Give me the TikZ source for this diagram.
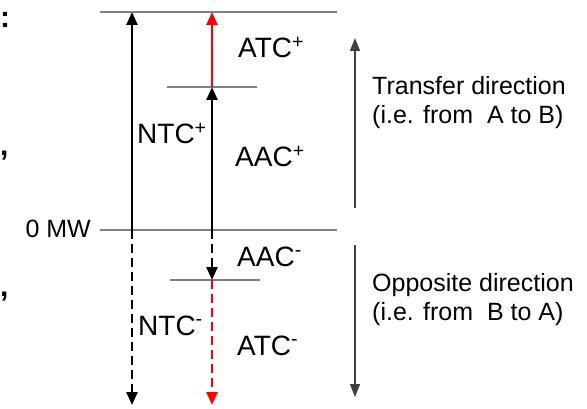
\documentclass[tikz,border=0pt]{standalone}
\usepackage{fontspec}
\setmainfont{Liberation Sans}
\usetikzlibrary{arrows.meta}

\begin{document}
\begin{tikzpicture}[
  x=1pt, y=-1pt,
  level/.style={line width=1.3pt, draw=black!50},
  arrow/.style={line width=2.6pt, -{Triangle[length=13pt,width=11pt]}},
  dasharrow/.style={arrow, dash pattern=on 9pt off 5pt},
  direction/.style={line width=1.4pt, draw=black!75, -{Triangle[length=13pt,width=10pt]}},
  label/.style={anchor=base west, inner sep=0pt, font=\fontsize{28}{30}\selectfont},
  side/.style={anchor=base west, inner sep=0pt, align=left, font=\fontsize{25}{29}\selectfont},
  punct/.style={anchor=base west, inner sep=0pt, font=\fontsize{30}{30}\selectfont\bfseries}
]
  \useasboundingbox (0,0) rectangle (587,409);

  % Niveaus
  \coordinate (topL) at (100,12);   \coordinate (topR) at (337,12);
  \coordinate (aacL) at (167,87);   \coordinate (aacR) at (257,87);
  \coordinate (zeroL) at (100,230); \coordinate (zeroR) at (337,230);
  \coordinate (lowL) at (170,280);  \coordinate (lowR) at (260,280);
  \draw [level] (topL) -- (topR);
  \draw [level] (aacL) -- (aacR);
  \draw [level] (zeroL) -- (zeroR);
  \draw [level] (lowL) -- (lowR);

  % Pfeile
  \coordinate (ntc0) at (132,230);  \coordinate (ntcT) at (132,12);  \coordinate (ntcB) at (132,405);
  \coordinate (aac0) at (212,230);  \coordinate (aacT) at (212,87);  \coordinate (atcT) at (212,12);
  \coordinate (aacB) at (212,280);  \coordinate (atcB) at (212,405);
  \draw [arrow] (ntc0) -- (ntcT);
  \draw [arrow] (aac0) -- (aacT);
  \draw [arrow, red] (aacT) -- (atcT);
  \draw [dasharrow] (ntc0) -- (ntcB);
  \draw [dasharrow] (aac0) -- (aacB);
  \draw [dasharrow, red] (aacB) -- (atcB);

  % Beschriftungen
  \node (atcp) [label] at (238,58) {ATC\textsuperscript{+}};
  \node (ntcp) [label] at (137,144) {NTC\textsuperscript{+}};
  \node (aacp) [label] at (235,167) {AAC\textsuperscript{+}};
  \node (aacm) [label] at (237,266) {AAC\textsuperscript{-}};
  \node (ntcm) [label] at (138,335) {NTC\textsuperscript{-}};
  \node (atcm) [label] at (237,355) {ATC\textsuperscript{-}};
  \node (zero) [side, anchor=base east] at (91,238) {0 MW};

  % Richtung
  \coordinate (upB) at (355,208);   \coordinate (upT) at (355,38);
  \coordinate (dnT) at (355,245);   \coordinate (dnB) at (355,397);
  \draw [direction] (upB) -- (upT);
  \draw [direction] (dnT) -- (dnB);
  \node (transfer) [side] at (372,124) {Transfer direction\\(i.e. from~ A to B)};
  \node (opposite) [side] at (372,320) {Opposite direction\\(i.e. from~ B to A)};

  % Reste am Rand
  \node (colon) [punct] at (0,28) {:};
  \node (comma1) [punct] at (0,156) {,};
  \node (comma2) [punct] at (0,296) {,};
\end{tikzpicture}
\end{document}
